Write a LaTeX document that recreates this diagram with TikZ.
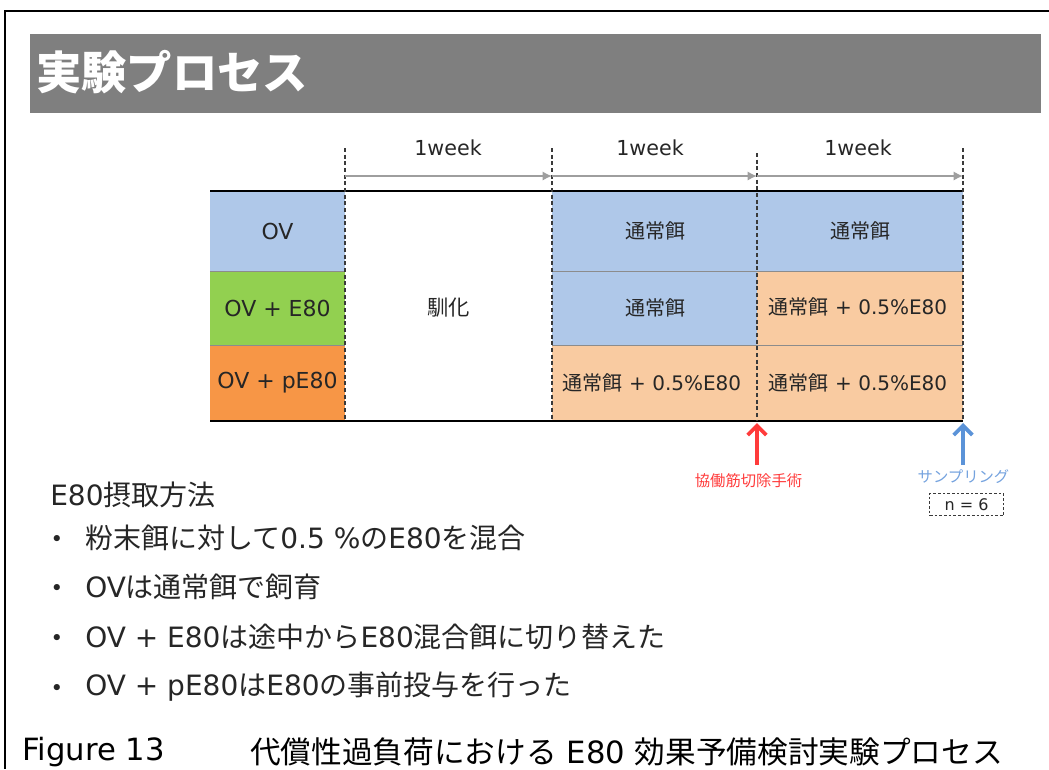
\documentclass[tikz,border=0pt]{standalone}
\usepackage{fontspec}
\setmainfont{DejaVu Sans}
\newfontfamily\jp{Noto Sans CJK JP}
\usetikzlibrary{arrows.meta}
\definecolor{cblue}{HTML}{AFC8E9}
\definecolor{cpeach}{HTML}{F9CBA1}
\definecolor{cgreen}{HTML}{92D050}
\definecolor{corange}{HTML}{F79646}
\definecolor{barc}{HTML}{7F7F7F}
\definecolor{txt}{HTML}{262626}
\definecolor{redc}{HTML}{FF3B3B}
\definecolor{bluea}{HTML}{5B93D8}
\definecolor{bluel}{HTML}{74A2DE}
\definecolor{arrg}{HTML}{9E9E9E}
\definecolor{dashc}{HTML}{3A3A3A}
\definecolor{sepc}{HTML}{8C8C8C}
\newcommand{\lt}[1]{{\normalfont #1}}
\begin{document}
\begin{tikzpicture}[x=0.75pt,y=-0.75pt,
  lab/.style={text=txt,inner sep=0pt,font=\fontsize{16.5}{20}\selectfont},
  feed/.style={text=txt,inner sep=0pt,font=\fontsize{15}{18}\selectfont},
  weeklab/.style={text=txt,inner sep=0pt,font=\fontsize{15.5}{18}\selectfont},
  weekarrow/.style={draw=arrg,line width=2.2pt,-{Latex[length=7pt,width=7pt]}},
  vdash/.style={draw=dashc,line width=0.9pt,dash pattern=on 3pt off 2pt},
  sep/.style={draw=sepc,line width=0.7pt},
  rule/.style={draw=black,line width=1.5pt},
  markarrow/.style={line width=2.8pt,-{Straight Barb[length=7pt,width=14pt]}},
  bullettext/.style={text=txt,inner sep=0pt,anchor=west,font=\jp\fontsize{21}{25}\selectfont},
  bulletdot/.style={text=txt,inner sep=0pt,font=\fontsize{16}{18}\selectfont},
  captext/.style={text=black,inner sep=0pt,anchor=west,font=\jp\fontsize{23}{27}\selectfont},
  small/.style={inner sep=0pt,font=\jp\fontsize{11.5}{14}\selectfont}]
\useasboundingbox (0,0) rectangle (1049,769);
% frame
\draw[line width=2.2pt] (1049,11) -- (5,11) -- (5,769);
% title bar
\fill[barc] (30,34) rectangle (1041,113);
\node[anchor=west,text=white,inner sep=0pt,font=\jp\bfseries\fontsize{34}{38}\selectfont] (title) at (36,72) {実験プロセス};
% cells
\fill[cblue] (210,191) rectangle (345,271);
\fill[cgreen] (210,271) rectangle (345,345);
\fill[corange] (210,345) rectangle (345,421);
\fill[cblue] (552,191) rectangle (963,271);
\fill[cblue] (552,271) rectangle (757,345);
\fill[cpeach] (757,271) rectangle (963,345);
\fill[cpeach] (552,345) rectangle (963,421);
% separators
\draw[sep] (210,271) -- (345,271);
\draw[sep] (210,345) -- (345,345);
\draw[sep] (552,271) -- (963,271);
\draw[sep] (552,345) -- (963,345);
% top / bottom rules
\draw[rule] (210,191) -- (963,191);
\draw[rule] (210,421) -- (963,421);
% dashed lines
\coordinate (d0t) at (345,148); \coordinate (d0b) at (345,421);
\coordinate (d1t) at (552,148); \coordinate (d1b) at (552,421);
\coordinate (d2t) at (757,153); \coordinate (d2b) at (757,421);
\coordinate (d3t) at (963,148); \coordinate (d3b) at (963,421);
\draw[vdash] (d0t) -- (d0b);
\draw[vdash] (d1t) -- (d1b);
\draw[vdash] (d2t) -- (d2b);
\draw[vdash] (d3t) -- (d3b);
% week arrows
\coordinate (a0) at (345,176);
\coordinate (a1) at (552,176);
\coordinate (a2) at (757,176);
\coordinate (a3) at (963,176);
\draw[weekarrow] (a0) -- (a1);
\draw[weekarrow] (a1) -- (a2);
\draw[weekarrow] (a2) -- (a3);
\node[weeklab] (w1) at (448,148) {1week};
\node[weeklab] (w2) at (650,148) {1week};
\node[weeklab] (w3) at (858,148) {1week};
% texts
\node[lab] (ov) at (277.5,231) {OV};
\node[lab] (ove) at (277.5,308) {OV + E80};
\node[lab] (ovp) at (277.5,383) {OV + pE80};
\node[feed,font=\jp\fontsize{16}{19}\selectfont] (jun) at (448.5,308) {馴化};
\node[feed] (c31) at (655,231) {{\jp 通常餌}};
\node[feed] (c32) at (655,308) {{\jp 通常餌}};
\node[feed] (c33) at (652,383) {{\jp 通常餌} + 0.5\%E80};
\node[feed] (c41) at (860,231) {{\jp 通常餌}};
\node[feed] (c42) at (858,307) {{\jp 通常餌} + 0.5\%E80};
\node[feed] (c43) at (858,383) {{\jp 通常餌} + 0.5\%E80};
% markers
\node[small,text=redc] (surg) at (748.5,481) {協働筋切除手術};
\coordinate (rtip) at (757,423);
\coordinate (rbase) at (757,465);
\draw[markarrow,draw=redc] (rbase) -- (rtip);
\node[small,text=bluel] (samp) at (963.5,477) {サンプリング};
\coordinate (btip) at (963,423);
\coordinate (bbase) at (963,465);
\draw[markarrow,draw=bluea] (bbase) -- (btip);
\node[draw=dashc,line width=0.9pt,dash pattern=on 2pt off 1.5pt,minimum width=55pt,minimum height=17pt,inner sep=0pt,text=txt,font=\fontsize{12}{14}\selectfont] (n6) at (966.5,504.5) {n = 6};
% bullet text
\node[bullettext] (head) at (50,495) {\lt{E80}摂取方法};
\node[bullettext] (b1) at (85,538) {粉末餌に対して\lt{0.5 \%}の\lt{E80}を混合};
\node[bullettext] (b2) at (85,587) {\lt{OV}は通常餌で飼育};
\node[bullettext] (b3) at (85,637) {\lt{OV + E80}は途中から\lt{E80}混合餌に切り替えた};
\node[bullettext] (b4) at (85,687) {\lt{OV + pE80}は\lt{E80}の事前投与を行った};
\node[bulletdot] (b1dot) at (57,541) {•};
\node[bulletdot] (b2dot) at (57,590) {•};
\node[bulletdot] (b3dot) at (57,640) {•};
\node[bulletdot] (b4dot) at (57,690) {•};
% caption
\node[captext] (fig) at (22,752) {\lt{Figure 13}};
\node[captext] (cap) at (250,752) {代償性過負荷における\lt{ E80 }効果予備検討実験プロセス};
\end{tikzpicture}
\end{document}
